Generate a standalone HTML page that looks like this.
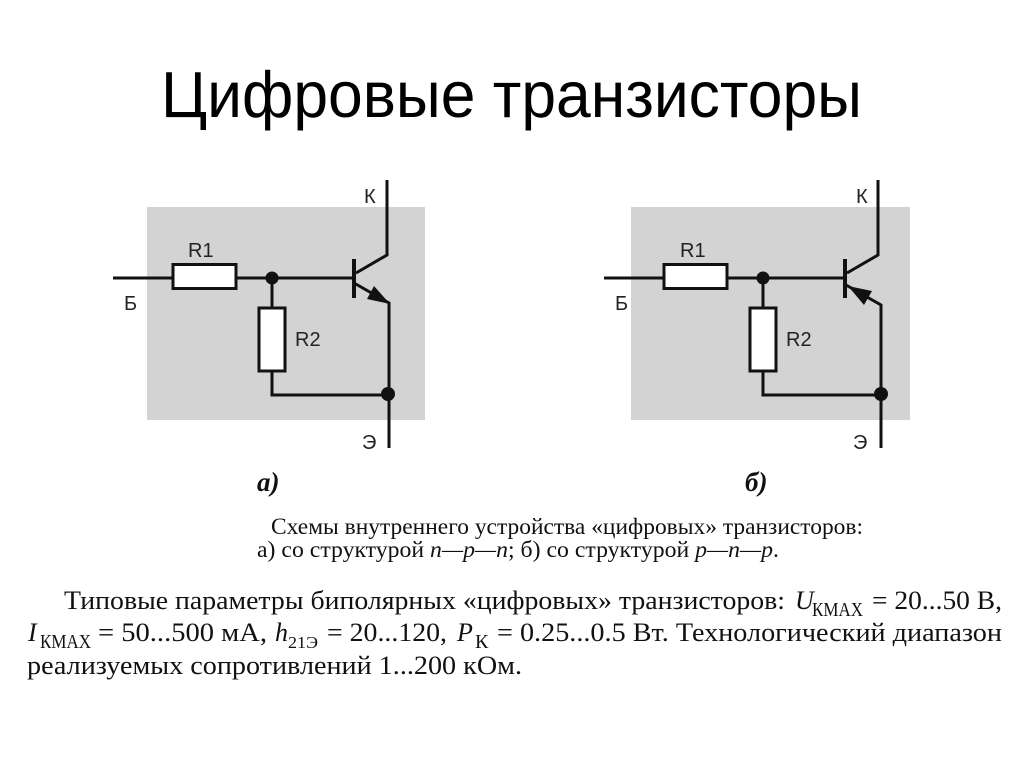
<!DOCTYPE html>
<html lang="ru"><head><meta charset="utf-8"><title>Цифровые транзисторы</title>
<style>html,body{margin:0;padding:0;background:#fff}svg{display:block}</style></head>
<body>
<svg width="1024" height="767" viewBox="0 0 1024 767" xmlns="http://www.w3.org/2000/svg">
<rect width="1024" height="767" fill="#fff"/>
<text x="161" y="117" font-family="'Liberation Sans',sans-serif" font-size="65" fill="#000" textLength="701" lengthAdjust="spacingAndGlyphs">Цифровые транзисторы</text>

<rect x="147" y="207" width="278" height="213" fill="#d3d3d3"/>
<rect x="631" y="207" width="279" height="213" fill="#d3d3d3"/>

<g fill="none" stroke="#111" stroke-width="3">
<path d="M113 278H173M236 278H354M272 278V308M272 371V395H389"/>
<rect x="173" y="264.500" width="63" height="24" fill="#fff"/>
<rect x="259" y="308" width="26" height="63" fill="#fff"/>
<path d="M387 180V255L356 273"/>
<path d="M354 283L389 303V448"/>
<path d="M354 259V298" stroke-width="4"/>

<path d="M604 278H664M727 278H845M763 278V308M763 371V395H881"/>
<rect x="664" y="264.500" width="63" height="24" fill="#fff"/>
<rect x="750" y="308" width="26" height="63" fill="#fff"/>
<path d="M878 180V255L847 273"/>
<path d="M846 285L881 305V448"/>
<path d="M845 259V298" stroke-width="4"/>
</g>
<g fill="#111">
<circle cx="272" cy="278" r="6.500"/><circle cx="388" cy="394" r="7"/>
<circle cx="763" cy="278" r="6.500"/><circle cx="881" cy="394" r="7"/>
<polygon points="390,304 367,299 374,286"/>
<polygon points="848,286 872,291 864,305"/>
</g>
<g font-family="'Liberation Sans',sans-serif" font-size="20" fill="#222">
<text x="188" y="257">R1</text><text x="295" y="346">R2</text>
<text x="364" y="203">К</text><text x="124" y="310">Б</text><text x="362" y="449">Э</text>
<text x="680" y="257">R1</text><text x="786" y="346">R2</text>
<text x="856" y="203">К</text><text x="615" y="310">Б</text><text x="853" y="449">Э</text>
</g>
<g font-family="'Liberation Serif',serif" fill="#111">
<text x="257" y="491" font-size="27" font-weight="bold" font-style="italic">а)</text>
<text x="745" y="491" font-size="27" font-weight="bold" font-style="italic">б)</text>
<text x="271" y="534" font-size="23" textLength="592" lengthAdjust="spacingAndGlyphs">Схемы внутреннего устройства «цифровых» транзисторов:</text>
<text x="257" y="557" font-size="23" textLength="522" lengthAdjust="spacingAndGlyphs">а) со структурой <tspan font-style="italic">n—p—n</tspan>; б) со структурой <tspan font-style="italic">p—n—p</tspan>.</text>
<text x="64" y="609" font-size="26" textLength="721" lengthAdjust="spacingAndGlyphs">Типовые параметры биполярных «цифровых» транзисторов:</text>
<text x="795" y="609" font-size="26" font-style="italic">U</text>
<text x="812" y="616" font-size="20" textLength="51" lengthAdjust="spacingAndGlyphs">КМАХ</text>
<text x="872" y="609" font-size="26" textLength="130" lengthAdjust="spacingAndGlyphs">= 20...50 В,</text>
<text x="28" y="641" font-size="26" font-style="italic">I</text>
<text x="40" y="648" font-size="20" textLength="51" lengthAdjust="spacingAndGlyphs">КМАХ</text>
<text x="98" y="641" font-size="26" textLength="169" lengthAdjust="spacingAndGlyphs">= 50...500 мА,</text>
<text x="275" y="641" font-size="26" font-style="italic">h</text>
<text x="288" y="648" font-size="17" textLength="30" lengthAdjust="spacingAndGlyphs">21Э</text>
<text x="327" y="641" font-size="26" textLength="120" lengthAdjust="spacingAndGlyphs">= 20...120,</text>
<text x="457" y="641" font-size="26" font-style="italic">P</text>
<text x="475" y="648" font-size="20">К</text>
<text x="497" y="641" font-size="26" textLength="505" lengthAdjust="spacingAndGlyphs">= 0.25...0.5 Вт. Технологический диапазон</text>
<text x="27" y="674" font-size="26" textLength="495" lengthAdjust="spacingAndGlyphs">реализуемых сопротивлений 1...200 кОм.</text>
</g>
</svg>
</body></html>
